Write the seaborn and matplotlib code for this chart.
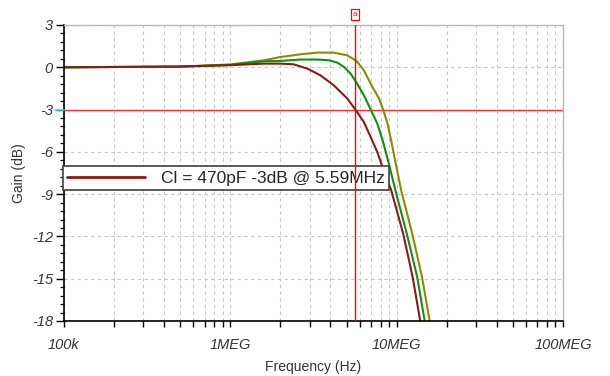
import numpy as np
import pandas as pd
import matplotlib
matplotlib.use("Agg")
import matplotlib.pyplot as plt
from matplotlib.lines import Line2D
from matplotlib.ticker import FixedLocator, NullFormatter, FixedFormatter, MultipleLocator
import matplotlib.transforms as mtransforms
import seaborn as sns

# ---- data (frequency in MHz, gain in dB) ----
f_470p = [0.1, 0.5, 1.0, 1.6, 2.0, 2.4, 2.9, 3.48, 4.19, 5.05, 5.65, 6.35, 6.97, 7.64, 8.35, 9.27, 10.94, 12.47, 13.77, 15.0]
g_470p = [0.0, 0.05, 0.15, 0.26, 0.26, 0.21, -0.09, -0.57, -1.28, -2.22, -3.0, -3.88, -4.94, -6.0, -7.3, -8.72, -11.8, -14.87, -17.82, -20.5]

f_green = [0.1, 0.5, 1.0, 1.6, 2.0, 2.64, 3.33, 3.9, 4.4, 4.82, 5.29, 5.74, 6.35, 6.97, 7.65, 8.24, 8.96, 9.86, 11.5, 13.28, 14.65, 16.0]
g_green = [0.0, 0.05, 0.17, 0.43, 0.45, 0.55, 0.55, 0.5, 0.33, 0.02, -0.45, -1.1, -1.99, -2.98, -4.0, -5.2, -6.8, -8.8, -11.8, -14.87, -17.82, -20.5]

f_olive = [0.1, 0.5, 1.0, 1.6, 2.0, 2.64, 3.33, 4.17, 5.04, 5.74, 6.35, 7.14, 7.82, 8.32, 8.79, 9.27, 9.86, 10.64, 12.4, 14.2, 15.7, 17.0]
g_olive = [0.0, 0.05, 0.2, 0.5, 0.73, 0.92, 1.04, 1.04, 0.85, 0.45, -0.21, -1.4, -2.2, -3.05, -3.95, -5.2, -6.8, -8.72, -11.8, -14.87, -17.82, -20.5]

series_names = ["Cl = 470pF", "green", "olive"]
colors = ["#8b1a1a", "#119111", "#8c8c00"]

cursor_mhz = 5.59
level_db = -3
y_ticks = [3, 0, -3, -6, -9, -12, -15, -18]
x_tick_vals = [1e5, 1e6, 1e7, 1e8]
x_tick_labels = ["100k", "1MEG", "10MEG", "100MEG"]
legend_text = "Cl = 470pF -3dB @ 5.59MHz"

df = pd.concat([
    pd.DataFrame({"freq": np.array(f) * 1e6, "gain": g, "series": n})
    for f, g, n in zip([f_470p, f_green, f_olive], [g_470p, g_green, g_olive], series_names)
])

sns.set_style("white")
plt.rcParams["font.family"] = ["Liberation Sans", "DejaVu Sans"]

fig = plt.figure(figsize=(6.10, 3.76), dpi=100)
ax = fig.add_axes([64/610, 1-321/376, (563-64)/610, (321-25)/376])

ax.set_xscale("log")
ax.set_xlim(1e5, 1e8)
ax.set_ylim(-18, 3)

sns.lineplot(data=df, x="freq", y="gain", hue="series", palette=dict(zip(series_names, colors)),
             hue_order=series_names[::-1], estimator=None, sort=True, linewidth=1.5, ax=ax, legend=False)

ax.grid(True, which="major", axis="y", color="#c8c8c8", linestyle=(0, (3, 3)), linewidth=0.8)
ax.grid(True, which="both", axis="x", color="#c8c8c8", linestyle=(0, (3, 3)), linewidth=0.8)
ax.set_axisbelow(True)

# cursor and level line
ax.axvline(cursor_mhz * 1e6, color="#ff0000", linewidth=1.0, zorder=5)
ax.axhline(level_db, color="#ff3030", linewidth=1.0, zorder=1.5)
trans = mtransforms.blended_transform_factory(ax.transAxes, ax.transData)
ax.plot([-0.018, 0], [level_db, level_db], color="#33dddd", lw=1.2, transform=trans, clip_on=False, zorder=6)
ax.annotate("a", xy=(cursor_mhz * 1e6, 1.035), xycoords=("data", "axes fraction"),
            ha="center", va="center", fontsize=5.5, color="#ff0000",
            bbox=dict(boxstyle="square,pad=0.25", fc="white", ec="#ff0000", lw=0.9), annotation_clip=False)

# ticks
ax.yaxis.set_major_locator(FixedLocator(y_ticks))
ax.yaxis.set_minor_locator(MultipleLocator(0.6))
ax.set_yticklabels([str(v) for v in y_ticks])
ax.xaxis.set_major_locator(FixedLocator(x_tick_vals))
ax.xaxis.set_major_formatter(FixedFormatter(x_tick_labels))
minors = [m * 10**d for d in range(5, 8) for m in range(2, 10)]
ax.xaxis.set_minor_locator(FixedLocator(minors))
ax.xaxis.set_minor_formatter(NullFormatter())

ax.tick_params(axis="y", which="major", direction="out", length=6, width=1, color="black", left=True,
               labelsize=10.5, labelcolor="#333333", pad=2)
ax.tick_params(axis="y", which="minor", direction="out", length=3, width=0.9, color="black", left=True)
ax.tick_params(axis="x", which="both", direction="out", length=4, width=1, color="black", bottom=True,
               labelsize=10.5, labelcolor="#333333", pad=8)
for lbl in ax.get_xticklabels() + ax.get_yticklabels():
    lbl.set_fontstyle("italic")

for s in ["left", "bottom"]:
    ax.spines[s].set_color("black")
    ax.spines[s].set_linewidth(1.2)
for s in ["top", "right"]:
    ax.spines[s].set_color("#b8b8b8")
    ax.spines[s].set_linewidth(1.0)

ax.set_xlabel("Frequency (Hz)", fontsize=10, color="#333333", labelpad=6)
ax.set_ylabel("Gain (dB)", fontsize=10, color="#333333", labelpad=4)

# legend
handle = Line2D([], [], color=colors[0], lw=2)
leg = ax.legend([handle], [legend_text], loc="upper left", bbox_to_anchor=(-0.002, 0.522),
                borderaxespad=0, fancybox=False, framealpha=1, edgecolor="#404040",
                fontsize=12.5, handlelength=4.5, handletextpad=0.9, borderpad=0.25)
leg.get_frame().set_linewidth(1.2)
leg.set_zorder(4)

fig.savefig("out.png", dpi=100, facecolor="white")
